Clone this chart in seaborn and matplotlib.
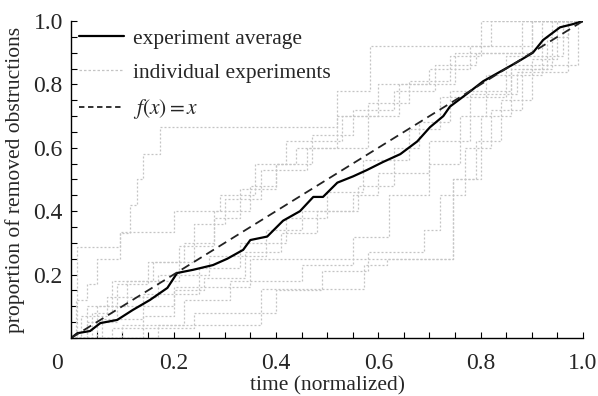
import numpy as np
import pandas as pd
import matplotlib
matplotlib.use('Agg')
import matplotlib.pyplot as plt
from matplotlib.lines import Line2D
from matplotlib.ticker import MultipleLocator, FuncFormatter
import seaborn as sns

# average over all experiments
avg_x = [0.0, 0.012, 0.037, 0.057, 0.09, 0.12, 0.154, 0.188, 0.207, 0.238, 0.277,
         0.305, 0.336, 0.35, 0.383, 0.414, 0.447, 0.473, 0.492, 0.52, 0.551, 0.578,
         0.609, 0.643, 0.676, 0.701, 0.727, 0.74, 0.773, 0.805, 0.838, 0.871, 0.902,
         0.922, 0.955, 0.98, 1.0]
avg_y = [0.0, 0.015, 0.022, 0.047, 0.057, 0.088, 0.12, 0.158, 0.205, 0.215, 0.23,
         0.25, 0.278, 0.309, 0.32, 0.37, 0.40, 0.445, 0.445, 0.49, 0.51, 0.53,
         0.555, 0.58, 0.62, 0.665, 0.70, 0.73, 0.77, 0.81, 0.84, 0.87, 0.90,
         0.94, 0.98, 0.99, 1.0]

# individual experiments: time of each removal and proportion after it
exp_times = [
    [0.01, 0.03, 0.05, 0.096, 0.115, 0.129, 0.141, 0.174, 0.52, 0.584, 0.82],
    [0.17, 0.37, 0.572, 0.617, 0.746, 0.80, 0.86, 0.93, 0.97],
    [0.03, 0.09, 0.20, 0.35, 0.746, 0.79, 0.84, 0.90, 0.95],
    [0.012, 0.096, 0.20, 0.29, 0.36, 0.42, 0.53, 0.64, 0.75, 0.88],
    [0.04, 0.08, 0.16, 0.24, 0.30, 0.37, 0.46, 0.52, 0.60, 0.70, 0.78, 0.90],
    [0.06, 0.14, 0.25, 0.33, 0.42, 0.50, 0.57, 0.66, 0.72, 0.85, 0.96],
    [0.10, 0.22, 0.31, 0.45, 0.55, 0.62, 0.70, 0.76, 0.81, 0.92],
    [0.02, 0.07, 0.17, 0.27, 0.38, 0.45, 0.56, 0.63, 0.68, 0.74, 0.86, 0.99],
    [0.05, 0.11, 0.21, 0.28, 0.33, 0.40, 0.44, 0.58, 0.66, 0.74, 0.80],
    [0.14, 0.20, 0.26, 0.34, 0.41, 0.48, 0.55, 0.60, 0.70, 0.78, 0.87, 0.97],
    [0.08, 0.24, 0.40, 0.49, 0.58, 0.69, 0.72, 0.77, 0.82, 0.88, 0.94],
    [0.03, 0.09, 0.15, 0.22, 0.28, 0.35, 0.40, 0.47, 0.55, 0.63, 0.71, 0.79, 0.90],
]
exp_values = [
    [0.12, 0.17, 0.25, 0.33, 0.42, 0.50, 0.58, 0.665, 0.78, 0.92, 1.0],
    [0.04, 0.155, 0.23, 0.25, 0.50, 0.70, 0.85, 0.95, 1.0],
    [0.05, 0.10, 0.16, 0.25, 0.50, 0.62, 0.75, 0.88, 1.0],
    [0.287, 0.335, 0.40, 0.45, 0.55, 0.62, 0.70, 0.80, 0.90, 1.0],
    [0.08, 0.18, 0.24, 0.36, 0.44, 0.53, 0.60, 0.70, 0.80, 0.85, 0.92, 1.0],
    [0.06, 0.14, 0.22, 0.30, 0.38, 0.46, 0.56, 0.66, 0.76, 0.89, 1.0],
    [0.04, 0.12, 0.18, 0.23, 0.32, 0.45, 0.55, 0.70, 0.83, 1.0],
    [0.07, 0.13, 0.20, 0.26, 0.34, 0.40, 0.48, 0.60, 0.68, 0.78, 0.86, 1.0],
    [0.10, 0.18, 0.29, 0.38, 0.47, 0.55, 0.60, 0.74, 0.81, 0.89, 1.0],
    [0.07, 0.15, 0.19, 0.27, 0.33, 0.40, 0.45, 0.52, 0.62, 0.77, 0.84, 1.0],
    [0.03, 0.08, 0.15, 0.21, 0.27, 0.34, 0.45, 0.60, 0.72, 0.85, 1.0],
    [0.10, 0.17, 0.24, 0.30, 0.40, 0.48, 0.55, 0.64, 0.72, 0.78, 0.86, 0.90, 1.0],
]

rows = []
for i, (ts, vs) in enumerate(zip(exp_times, exp_values)):
    rows.append((i, 0.0, 0.0))
    for t, v in zip(ts, vs):
        rows.append((i, t, v))
    rows.append((i, 1.0, vs[-1]))
exp_df = pd.DataFrame(rows, columns=['exp', 'time', 'prop'])
avg_df = pd.DataFrame({'time': avg_x, 'prop': avg_y})
diag = [0.0, 1.0]

sns.set_theme(style='ticks')
plt.rcParams['font.family'] = ['Liberation Serif', 'DejaVu Serif']
plt.rcParams['mathtext.fontset'] = 'stix'

fig = plt.figure(figsize=(5.98, 3.96), dpi=100)
ax = fig.add_axes([0.119, 0.1465, 0.856, 0.8005])

grey = '#c4c4c4'
sns.lineplot(data=exp_df, x='time', y='prop', units='exp', estimator=None,
             color=grey, lw=0.9, linestyle=(0, (1.6, 1.6)), drawstyle='steps-post',
             ax=ax, legend=False)
sns.lineplot(data=avg_df, x='time', y='prop', color='black', lw=1.6, ax=ax,
             legend=False)
sns.lineplot(x=diag, y=diag, color='#222222', lw=1.3, linestyle=(0, (5, 3)),
             ax=ax, legend=False)

ax.set_xlim(0, 1)
ax.set_ylim(0, 1)
sns.despine(ax=ax)
for s in ['left', 'bottom']:
    ax.spines[s].set_linewidth(1.0)
    ax.spines[s].set_color('black')

# origin label "0" is drawn separately (sits left of the corner)
xfmt = FuncFormatter(lambda v, p: '' if abs(v) < 1e-9 else '%.1f' % v)
yfmt = FuncFormatter(lambda v, p: '%.1f' % v)
for axis, f in ((ax.xaxis, xfmt), (ax.yaxis, yfmt)):
    axis.set_major_locator(MultipleLocator(0.2))
    axis.set_minor_locator(MultipleLocator(0.05))
    axis.set_major_formatter(f)
ax.tick_params(which='both', direction='in', length=4.5, width=0.8, color='black')
ax.tick_params(axis='x', which='major', labelsize=17, pad=11)
ax.tick_params(axis='y', which='major', labelsize=17, pad=6)
ax.set_xticks([0, 0.2, 0.4, 0.6, 0.8, 1.0])
ax.set_yticks([0.2, 0.4, 0.6, 0.8, 1.0])
ax.annotate('0', xy=(0, 0), xycoords='axes fraction', xytext=(-10, -11),
            textcoords='offset points', ha='center', va='top', fontsize=17)

ax.set_xlabel('time (normalized)', fontsize=15.5)
ax.xaxis.set_label_coords(0.5, -0.12)
ax.set_ylabel('proportion of removed obstructions', fontsize=15.5)
ax.yaxis.set_label_coords(-0.09, 0.5)

handles = [
    Line2D([], [], color='black', lw=1.6),
    Line2D([], [], color=grey, lw=0.9, linestyle=(0, (2, 1.6))),
    Line2D([], [], color='#222222', lw=1.3, linestyle=(0, (3, 2))),
]
labels = ['experiment average', 'individual experiments', '$f(x)=x$']
ax.legend(handles, labels, loc='upper left', bbox_to_anchor=(-0.022, 1.037),
          frameon=False, fontsize=15.5, handlelength=2.1, handletextpad=0.4,
          labelspacing=0.66)

fig.savefig('out.png', dpi=100)
